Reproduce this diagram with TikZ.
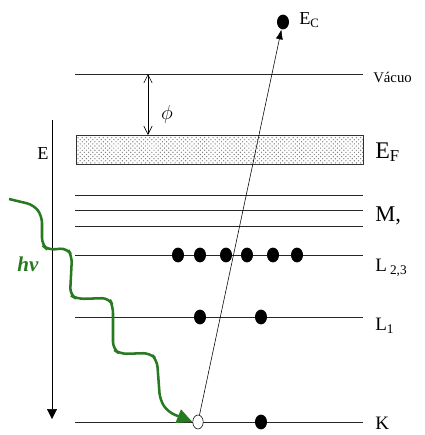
\documentclass[tikz,border=0pt]{standalone}
\usepackage{fontspec}
\setmainfont{Liberation Serif}
\usetikzlibrary{arrows.meta,shapes.geometric,patterns}
\definecolor{photongreen}{RGB}{40,122,32}
\tikzset{
  level/.style={line width=0.6pt, black!85},
  electron/.style={ellipse, fill=black, inner sep=0pt, minimum width=0.3cm, minimum height=0.37cm},
  hole/.style={ellipse, draw, thin, fill=white, inner sep=0pt, minimum width=0.26cm, minimum height=0.35cm},
  lbl/.style={anchor=west, inner sep=0pt},
}
\begin{document}
\begin{tikzpicture}[x=0.025cm, y=-0.025cm]
   \useasboundingbox (0,0) rectangle (425,435);
   % Levels
   \draw[level] (75,74) -- (363,74);
   \draw[draw=black!80, pattern=crosshatch dots, pattern color=black!50] (76,135) rectangle (363,164);
   \foreach \y in {195,210,226,255,317,422}
      \draw[level] (75,\y) -- (363,\y);
   \node[lbl, font=\fontsize{10.5}{12}\selectfont] (vacuo) at (373,77) {Vácuo};
   \node[lbl, font=\fontsize{17}{19}\selectfont] (ef) at (375,152) {E\textsubscript{F}};
   \node[lbl, font=\fontsize{16}{18}\selectfont] (m) at (375,216) {M,};
   \node[lbl, font=\fontsize{13.5}{15}\selectfont] (l23) at (375,268) {L\,\textsubscript{2,3}};
   \node[lbl, font=\fontsize{13.5}{15}\selectfont] (l1) at (375,326) {L\textsubscript{1}};
   \node[lbl, font=\fontsize{13.5}{15}\selectfont] (k) at (375,423) {K};

   % Electrons
   \foreach \x [count=\i] in {178,200,226,247,273,297}
      \node[electron] (l23-\i) at (\x,255) {};
   \node[electron] (l1-1) at (200,317) {};
   \node[electron] (l1-2) at (261,317) {};
   \node[electron] (k-2) at (261,422) {};
   \node[hole] (hole) at (198,422) {};
   \node[electron] (ec) at (283,22) {};
   \node[lbl, font=\fontsize{13}{15}\selectfont] (eclbl) at (299,20) {E\textsubscript{C}};
   \draw[thin, -{Latex[length=7pt,width=5pt]}] (hole) -- (ec);

   % Work function
   \coordinate (vac) at (148,74);
   \coordinate (fermi) at (148,135);
   \draw[thin, {Straight Barb[length=6pt,width=6pt]}-{Straight Barb[length=6pt,width=6pt]}] (vac) -- (fermi);
   \node (phi) at (167,114) {\Large$\phi$};

   % Energy axis
   \coordinate (etop) at (52,120);
   \coordinate (ebot) at (52,419);
   \draw[thin, -{Triangle[length=7pt,width=7pt]}] (etop) -- (ebot);
   \node[font=\fontsize{13}{15}\selectfont] (e) at (43,154) {E};

   % Photon
   \coordinate (wavestart) at (9,199);
   \draw[photongreen, line width=1.8pt, rounded corners=5pt, -{Triangle[length=11pt,width=10pt]}]
      (wavestart) -- (34,205) -- (42,216) -- (42,245) -- (48,250) -- (67,248) -- (72,256)
      -- (70,295) -- (77,299) -- (109,298) -- (113,306) -- (113,349) -- (120,354)
      -- (150,353) -- (157,360) -- (160,400) -- (168,412) -- (hole.west);
   \node[photongreen, font=\fontsize{15}{17}\selectfont\bfseries\itshape] (hv) at (28,264) {hν};
\end{tikzpicture}
\end{document}
